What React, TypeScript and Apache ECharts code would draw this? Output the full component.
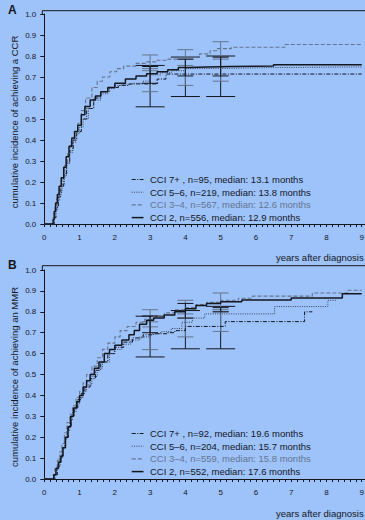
import React, { useEffect, useRef } from "react";
import * as echarts from "echarts";

// ---------- Panel A (CCR) ----------
const A_NAMES = [
  "CCI 7+ , n=95, median: 13.1 months",
  "CCI 5\u20136, n=219, median: 13.8 months",
  "CCI 3\u20134, n=567, median: 12.6 months",
  "CCI 2, n=556, median: 12.9 months",
];
const A7_T = [0, 0.28, 0.33, 0.4, 0.47, 0.55, 0.63, 0.72, 0.82, 0.92, 1.05, 1.2, 1.4, 1.6, 1.85, 2.1, 2.4, 3.2, 3.45, 9.0];
const A7_V = [0, 0.03, 0.08, 0.13, 0.18, 0.23, 0.29, 0.35, 0.4, 0.44, 0.5, 0.55, 0.6, 0.63, 0.65, 0.66, 0.667, 0.69, 0.714, 0.714];
const A56_T = [0, 0.27, 0.32, 0.38, 0.44, 0.5, 0.57, 0.64, 0.72, 0.8, 0.9, 1.0, 1.1, 1.25, 1.4, 1.6, 1.8, 2.0, 2.2, 2.5, 2.8, 3.0, 3.3, 3.6, 4.0, 4.5, 5.5, 6.5, 9.0];
const A56_V = [0, 0.03, 0.07, 0.11, 0.15, 0.19, 0.24, 0.29, 0.34, 0.39, 0.43, 0.46, 0.5, 0.55, 0.59, 0.62, 0.645, 0.66, 0.665, 0.67, 0.68, 0.71, 0.72, 0.73, 0.74, 0.742, 0.745, 0.748, 0.748];
const A34_T = [0, 0.25, 0.3, 0.35, 0.42, 0.5, 0.58, 0.66, 0.75, 0.85, 0.95, 1.05, 1.17, 1.35, 1.5, 1.65, 1.86, 2.05, 2.25, 2.6, 2.9, 3.2, 3.5, 3.8, 4.1, 4.4, 4.7, 4.9, 5.3, 6.82, 9.0];
const A34_V = [0, 0.03, 0.08, 0.12, 0.17, 0.22, 0.28, 0.34, 0.39, 0.44, 0.48, 0.54, 0.6, 0.65, 0.68, 0.7, 0.725, 0.74, 0.752, 0.765, 0.772, 0.78, 0.785, 0.79, 0.795, 0.81, 0.825, 0.835, 0.842, 0.855, 0.855];
const A2_T = [0, 0.25, 0.28, 0.32, 0.37, 0.42, 0.48, 0.55, 0.62, 0.7, 0.78, 0.86, 0.95, 1.05, 1.15, 1.3, 1.45, 1.6, 1.8, 2.0, 2.3, 2.6, 2.9, 3.2, 3.5, 3.8, 4.1, 4.6, 5.3, 6.5, 9.0];
const A2_V = [0, 0.02, 0.06, 0.1, 0.14, 0.18, 0.22, 0.27, 0.32, 0.37, 0.41, 0.44, 0.47, 0.52, 0.56, 0.59, 0.61, 0.63, 0.65, 0.67, 0.69, 0.705, 0.715, 0.725, 0.735, 0.745, 0.748, 0.75, 0.752, 0.758, 0.758];

const CI_T = [3, 4, 5];
const A7_LO = [0.558, 0.607, 0.607];
const A7_HI = [0.755, 0.795, 0.8];
const A56_LO = [0.63, 0.66, 0.68];
const A56_HI = [0.74, 0.785, 0.795];
const A34_LO = [0.73, 0.755, 0.785];
const A34_HI = [0.805, 0.83, 0.868];
const A2_LO = [0.67, 0.705, 0.705];
const A2_HI = [0.75, 0.785, 0.795];

// ---------- Panel B (MMR) ----------
const B_NAMES = [
  "CCI 7+ , n=92, median: 19.6 months",
  "CCI 5\u20136, n=204, median: 15.7 months",
  "CCI 3\u20134, n=559, median: 15.8 months",
  "CCI 2, n=552, median: 17.6 months",
];
const B7_T = [0, 0.3, 0.37, 0.45, 0.52, 0.6, 0.68, 0.76, 0.85, 0.95, 1.05, 1.15, 1.3, 1.45, 1.6, 1.8, 2.0, 2.25, 2.5, 2.8, 3.1, 3.5, 3.7, 4.0, 5.13, 7.38, 7.6];
const B7_V = [0, 0.02, 0.06, 0.1, 0.15, 0.2, 0.25, 0.3, 0.34, 0.38, 0.41, 0.44, 0.48, 0.52, 0.56, 0.6, 0.63, 0.655, 0.675, 0.69, 0.695, 0.7, 0.71, 0.73, 0.753, 0.8, 0.8];
const B56_T = [0, 0.28, 0.35, 0.42, 0.5, 0.57, 0.64, 0.72, 0.8, 0.9, 1.0, 1.1, 1.2, 1.35, 1.5, 1.65, 1.85, 2.0, 2.2, 2.45, 2.7, 3.0, 3.3, 3.6, 3.9, 4.2, 4.55, 6.53, 8.04, 8.3];
const B56_V = [0, 0.02, 0.06, 0.1, 0.15, 0.19, 0.23, 0.28, 0.32, 0.36, 0.39, 0.42, 0.45, 0.49, 0.53, 0.56, 0.6, 0.62, 0.645, 0.665, 0.68, 0.695, 0.705, 0.72, 0.75, 0.77, 0.79, 0.825, 0.855, 0.855];
const B34_T = [0, 0.25, 0.3, 0.37, 0.44, 0.5, 0.57, 0.64, 0.72, 0.8, 0.9, 1.0, 1.1, 1.2, 1.35, 1.5, 1.65, 1.8, 2.0, 2.15, 2.35, 2.6, 2.85, 3.1, 3.4, 3.7, 4.0, 4.3, 4.6, 5.0, 5.5, 5.9, 7.6, 8.6, 9.0];
const B34_V = [0, 0.02, 0.05, 0.09, 0.13, 0.17, 0.22, 0.27, 0.31, 0.35, 0.39, 0.42, 0.46, 0.5, 0.54, 0.58, 0.62, 0.65, 0.68, 0.71, 0.73, 0.75, 0.765, 0.78, 0.795, 0.81, 0.82, 0.835, 0.845, 0.855, 0.865, 0.875, 0.89, 0.903, 0.903];
const B2_T = [0, 0.27, 0.33, 0.4, 0.47, 0.53, 0.6, 0.67, 0.75, 0.83, 0.92, 1.0, 1.1, 1.2, 1.3, 1.42, 1.55, 1.7, 1.85, 2.0, 2.2, 2.4, 2.55, 2.7, 2.9, 3.1, 3.4, 3.7, 4.0, 4.3, 4.6, 5.0, 5.6, 7.0, 8.45, 9.0];
const B2_V = [0, 0.02, 0.05, 0.08, 0.11, 0.15, 0.2, 0.25, 0.3, 0.34, 0.37, 0.4, 0.44, 0.47, 0.5, 0.53, 0.56, 0.6, 0.62, 0.64, 0.665, 0.69, 0.71, 0.74, 0.76, 0.77, 0.785, 0.8, 0.815, 0.83, 0.84, 0.848, 0.857, 0.866, 0.886, 0.886];

const B7_LO = [0.584, 0.623, 0.623];
const B7_HI = [0.779, 0.806, 0.826];
const B56_LO = [0.619, 0.68, 0.706];
const B56_HI = [0.752, 0.79, 0.81];
const B34_LO = [0.728, 0.77, 0.8];
const B34_HI = [0.81, 0.855, 0.89];
const B2_LO = [0.7, 0.77, 0.8];
const B2_HI = [0.78, 0.84, 0.82];

const X_TICKS = [0, 1, 2, 3, 4, 5, 6, 7, 8, 9];

const BG = "#9dc3fa";
const DARK = "#15171f";
const GRAY = "#65758e";
const FONT = "'Liberation Sans', Arial, sans-serif";

const zip = (t: number[], v: number[]) => t.map((x, i) => [x, v[i]]);
const zip3 = (t: number[], lo: number[], hi: number[]) => t.map((x, i) => [x, lo[i], hi[i]]);

export default function App() {
  const ref = useRef<HTMLDivElement>(null);
  useEffect(() => {
    if (!ref.current) return;
    const chart = echarts.init(ref.current, undefined, { renderer: "svg" });

    const styles = [
      { color: DARK, width: 1, type: [4, 1.5, 1, 1.5] }, // 7+
      { color: "#3a4356", width: 1, type: [1, 1.3] }, // 5-6
      { color: GRAY, width: 1.1, type: [4, 2] }, // 3-4
      { color: DARK, width: 1.5, type: "solid" }, // 2
    ];
    const dashOf = (t: any) => (Array.isArray(t) ? t : null);

    const lineSeries = (name: string, t: number[], v: number[], s: any, panel: number, z: number) => ({
      type: "line",
      name,
      xAxisIndex: panel,
      yAxisIndex: panel,
      data: zip(t, v),
      step: "end",
      symbol: "none",
      showSymbol: false,
      silent: true,
      z,
      lineStyle: { color: s.color, width: s.width, type: s.type },
      itemStyle: { color: s.color },
    });

    const ciSeries = (lo: number[], hi: number[], color: string, halfPx: number, width: number, panel: number) => ({
      type: "custom",
      xAxisIndex: panel,
      yAxisIndex: panel,
      silent: true,
      z: 1,
      data: zip3(CI_T, lo, hi),
      encode: { x: 0, y: [1, 2] },
      renderItem: (params: any, api: any) => {
        const t = api.value(0);
        const p0 = api.coord([t, api.value(1)]);
        const p1 = api.coord([t, api.value(2)]);
        const st = { stroke: color, lineWidth: width };
        return {
          type: "group",
          children: [
            { type: "line", shape: { x1: p0[0], y1: p0[1], x2: p1[0], y2: p1[1] }, style: st },
            { type: "line", shape: { x1: p0[0] - halfPx, y1: p0[1], x2: p0[0] + halfPx, y2: p0[1] }, style: st },
            { type: "line", shape: { x1: p1[0] - halfPx, y1: p1[1], x2: p1[0] + halfPx, y2: p1[1] }, style: st },
          ],
        };
      },
    });

    const xAxis = (grid: number, offset: number) => ({
      type: "value",
      gridIndex: grid,
      min: 0,
      max: 10,
      interval: 1,
      offset,
      axisLine: { show: true, lineStyle: { color: DARK, width: 1 } },
      axisTick: { show: true, length: 3, lineStyle: { color: DARK } },
      minorTick: { show: true, splitNumber: 6, length: 3, lineStyle: { color: DARK } },
      splitLine: { show: false },
      axisLabel: {
        fontSize: 8,
        color: DARK,
        fontFamily: FONT,
        margin: 6,
        formatter: (v: number) => (X_TICKS.includes(v) ? String(v) : ""),
      },
    });
    const yAxis = (grid: number) => ({
      type: "value",
      gridIndex: grid,
      min: 0,
      max: 1,
      interval: 0.1,
      offset: 2,
      axisLine: { show: true, lineStyle: { color: DARK, width: 1 } },
      axisTick: { show: true, length: 4, lineStyle: { color: DARK } },
      splitLine: { show: false },
      axisLabel: { fontSize: 8, color: DARK, fontFamily: FONT, margin: 6, formatter: (v: number) => v.toFixed(1) },
    });

    const A_T = [A7_T, A56_T, A34_T, A2_T];
    const A_V = [A7_V, A56_V, A34_V, A2_V];
    const B_T = [B7_T, B56_T, B34_T, B2_T];
    const B_V = [B7_V, B56_V, B34_V, B2_V];

    const series: any[] = [];
    for (let i = 0; i < 4; i++) {
      series.push(lineSeries(A_NAMES[i], A_T[i], A_V[i], styles[i], 0, 3 + i));
      series.push(lineSeries(B_NAMES[i], B_T[i], B_V[i], styles[i], 1, 3 + i));
    }
    // confidence intervals
    series.push(ciSeries(A7_LO, A7_HI, DARK, 14.5, 1, 0));
    series.push(ciSeries(A56_LO, A56_HI, GRAY, 8, 1, 0));
    series.push(ciSeries(A34_LO, A34_HI, GRAY, 8, 1, 0));
    series.push(ciSeries(A2_LO, A2_HI, DARK, 8, 1, 0));
    series.push(ciSeries(B7_LO, B7_HI, DARK, 14.5, 1, 1));
    series.push(ciSeries(B56_LO, B56_HI, GRAY, 8, 1, 1));
    series.push(ciSeries(B34_LO, B34_HI, GRAY, 8, 1, 1));
    series.push(ciSeries(B2_LO, B2_HI, DARK, 8, 1, 1));

    const frame = (yTop: number, yAxisTop: number) => [
      { type: "line", shape: { x1: 42.3, y1: yTop, x2: 400, y2: yTop }, style: { stroke: DARK, lineWidth: 1 } },
      { type: "line", shape: { x1: 42.3, y1: yTop, x2: 42.3, y2: yAxisTop }, style: { stroke: DARK, lineWidth: 1 } },
    ];
    const txt = (text: string, x: number, y: number, size: number, weight = "normal") => ({
      type: "text",
      x,
      y,
      silent: true,
      style: { text, fill: DARK, font: `${weight} ${size}px ${FONT}` },
    });
    const legendGraphic = (names: string[], top: number) => {
      const out: any[] = [];
      names.forEach((n, i) => {
        const y = top + i * 12.7;
        const s = styles[i];
        out.push({
          type: "line",
          silent: true,
          shape: { x1: 131.7, y1: y, x2: 143.5, y2: y },
          style: { stroke: s.color, lineWidth: s.width, lineDash: dashOf(s.type) },
        });
        out.push({
          type: "text",
          x: 150,
          y,
          silent: true,
          style: {
            text: n,
            fill: i === 2 ? GRAY : DARK,
            font: `normal 9.5px ${FONT}`,
            verticalAlign: "middle",
          },
        });
      });
      return out;
    };
    const yTitle = (text: string, y: number) => ({
      type: "text",
      x: 14,
      y,
      rotation: Math.PI / 2,
      silent: true,
      style: { text, fill: DARK, font: `normal 9.5px ${FONT}`, align: "center", verticalAlign: "middle" },
    });

    chart.setOption({
      animation: false,
      backgroundColor: BG,
      grid: [
        { left: 44.3, top: 14, width: 355.5, height: 210 },
        { left: 44.3, top: 270, width: 355.5, height: 209 },
      ],
      xAxis: [xAxis(0, 3.5), xAxis(1, 3.7)],
      yAxis: [yAxis(0), yAxis(1)],
      series,
      graphic: [
        ...frame(10.7, 14),
        ...frame(265.7, 270),
        txt("A", 8, 4, 12, "bold"),
        txt("B", 8, 259, 12, "bold"),
        txt("years after diagnosis", 276, 252, 9.5),
        txt("years after diagnosis", 276, 508, 9.5),
        yTitle("cumulative incidence of achieving a CCR", 122),
        yTitle("cumulative incidence of achieving an MMR", 377),
        ...legendGraphic(A_NAMES, 179.5),
        ...legendGraphic(B_NAMES, 433.5),
      ],
    });
    return () => chart.dispose();
  }, []);

  return (
    <div style={{ position: "fixed", left: 0, top: 0, width: 365, height: 520, overflow: "hidden" }}>
      <div ref={ref} style={{ width: 400, height: 520 }} />
    </div>
  );
}
